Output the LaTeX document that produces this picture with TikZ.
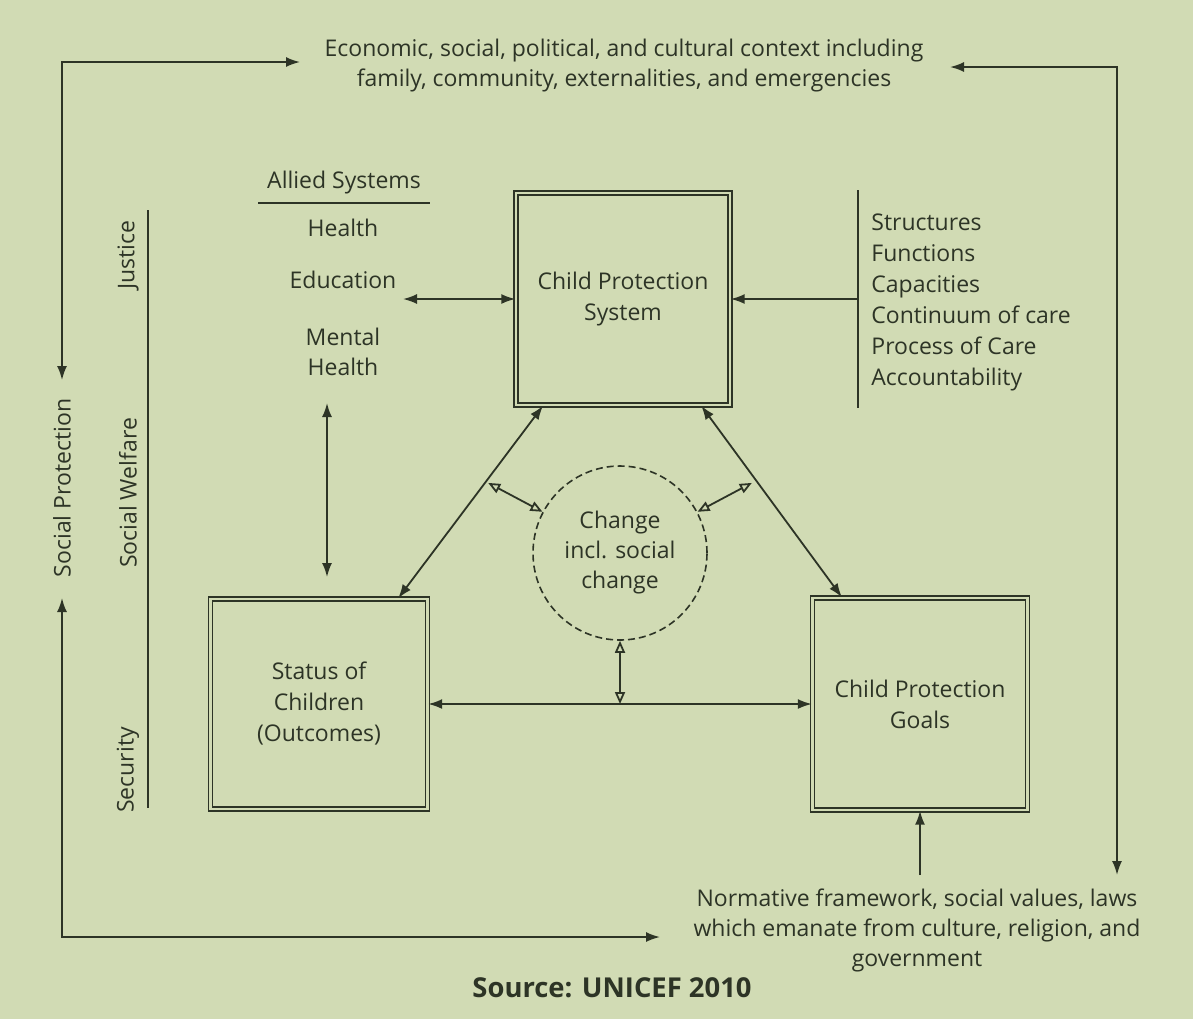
\documentclass[tikz,border=0pt]{standalone}
\usepackage{fontspec}
\setmainfont{Open Sans}
\usetikzlibrary{arrows.meta,calc,positioning}
\definecolor{paper}{RGB}{209,219,180}
\definecolor{ink}{RGB}{45,52,38}
\tikzset{
  lbl/.style={text=ink, font=\fontsize{11.5}{15}\selectfont, align=center, inner sep=0pt},
  sysbox/.style={draw=ink, double=paper, double distance=1.2pt, line width=0.7pt,
    align=center, text=ink, font=\fontsize{11.5}{15.5}\selectfont, inner sep=0pt},
  arr/.style={draw=ink, line width=0.9pt, -{Latex[length=7pt,width=5pt]}},
  both/.style={draw=ink, line width=0.9pt, {Latex[length=7pt,width=5pt]}-{Latex[length=7pt,width=5pt]}},
  hollow/.style={draw=ink, line width=0.9pt, {Triangle[open,length=6pt,width=5pt]}-{Triangle[open,length=6pt,width=5pt]}},
  plain/.style={draw=ink, line width=0.9pt},
}
\begin{document}
\begin{tikzpicture}[x=0.5pt,y=-0.5pt]
	\fill[paper] (0,0) rectangle (1193,1019);

	% boxes
	\node[sysbox, minimum width=107pt, minimum height=106pt] (cps) at (623,299) {Child Protection\\System};
	\node[sysbox, minimum width=108.5pt, minimum height=105pt] (status) at (319,704) {Status of\\Children\\(Outcomes)};
	\node[sysbox, minimum width=107.5pt, minimum height=106pt] (goals) at (920,704) {Child Protection\\Goals};
	\node[circle, draw=ink, dashed, dash pattern=on 3.5pt off 2pt, line width=0.8pt,
		minimum size=87pt, lbl] (chg) at (620,553) {Change\\incl. social\\change};

	% context texts
	\node[lbl] (ctx) at (624,66) {Economic, social, political, and cultural context including\\family, community, externalities, and emergencies};
	\node[lbl] (norm) at (917,930) {Normative framework, social values, laws\\which emanate from culture, religion, and\\government};
	\node[text=ink, font=\bfseries\fontsize{13.7}{15}\selectfont, inner sep=0pt] (src) at (612,988) {Source: UNICEF 2010};

	% allied systems
	\node[lbl] (allied) at (344,183) {Allied Systems};
	\draw[plain] (258,203) -- (430,203);
	\node[lbl] (health) at (343,228) {Health};
	\node[lbl] (educ) at (343,280) {Education};
	\node[lbl] (mental) at (343,352) {Mental\\Health};

	% structures list
	\node[lbl, align=left, anchor=west, font=\fontsize{11.5}{15.5}\selectfont] (struct) at (871,302) {Structures\\Functions\\Capacities\\Continuum of care\\Process of Care\\Accountability};
	\coordinate (barT) at (858,190);
	\coordinate (barB) at (858,408);
	\coordinate (bar) at (858,299);
	\draw[plain] (barT) -- (barB);

	% side labels
	\node[lbl, rotate=90] (socprot) at (62,488) {Social Protection};
	\node[lbl, rotate=90] (justice) at (128,255) {Justice};
	\node[lbl, rotate=90] (welfare) at (128,493) {Social Welfare};
	\node[lbl, rotate=90] (security) at (128,770) {Security};
	\draw[plain] (148,210) -- (148,808);

	% free ends
	\coordinate (ctxL) at (300,62);
	\coordinate (ctxR) at (950,67);
	\coordinate (normL) at (660,937);
	\coordinate (normR) at (1117,875);
	\coordinate (spT) at (62,380);
	\coordinate (spB) at (62,598);
	\coordinate (educR) at (403,299);
	\coordinate (mentB) at (327,403);
	\coordinate (statT) at (327,577);
	\coordinate (normT) at (920,875);

	% outer loop
	\draw[both] (ctxL) -| (spT);
	\draw[both] (spB) |- (normL);
	\draw[both] (ctxR) -| (normR);
	\draw[arr] (normT) -- (goals.south);

	% links
	\draw[both] (educR) -- (cps);
	\draw[both] (mentB) -- (statT);
	\draw[arr] (bar) -- (cps);
	\draw[both] (cps) -- (status);
	\draw[both] (cps) -- (goals);
	\draw[both] (status) -- (goals);

	% change links
	\draw[hollow] ($(chg.center)!1.7!(chg.152)$) -- (chg.152);
	\draw[hollow] ($(chg.center)!1.7!(chg.28)$) -- (chg.28);
	\draw[hollow] (chg.south) -- (chg.south |- status.east);
\end{tikzpicture}
\end{document}
